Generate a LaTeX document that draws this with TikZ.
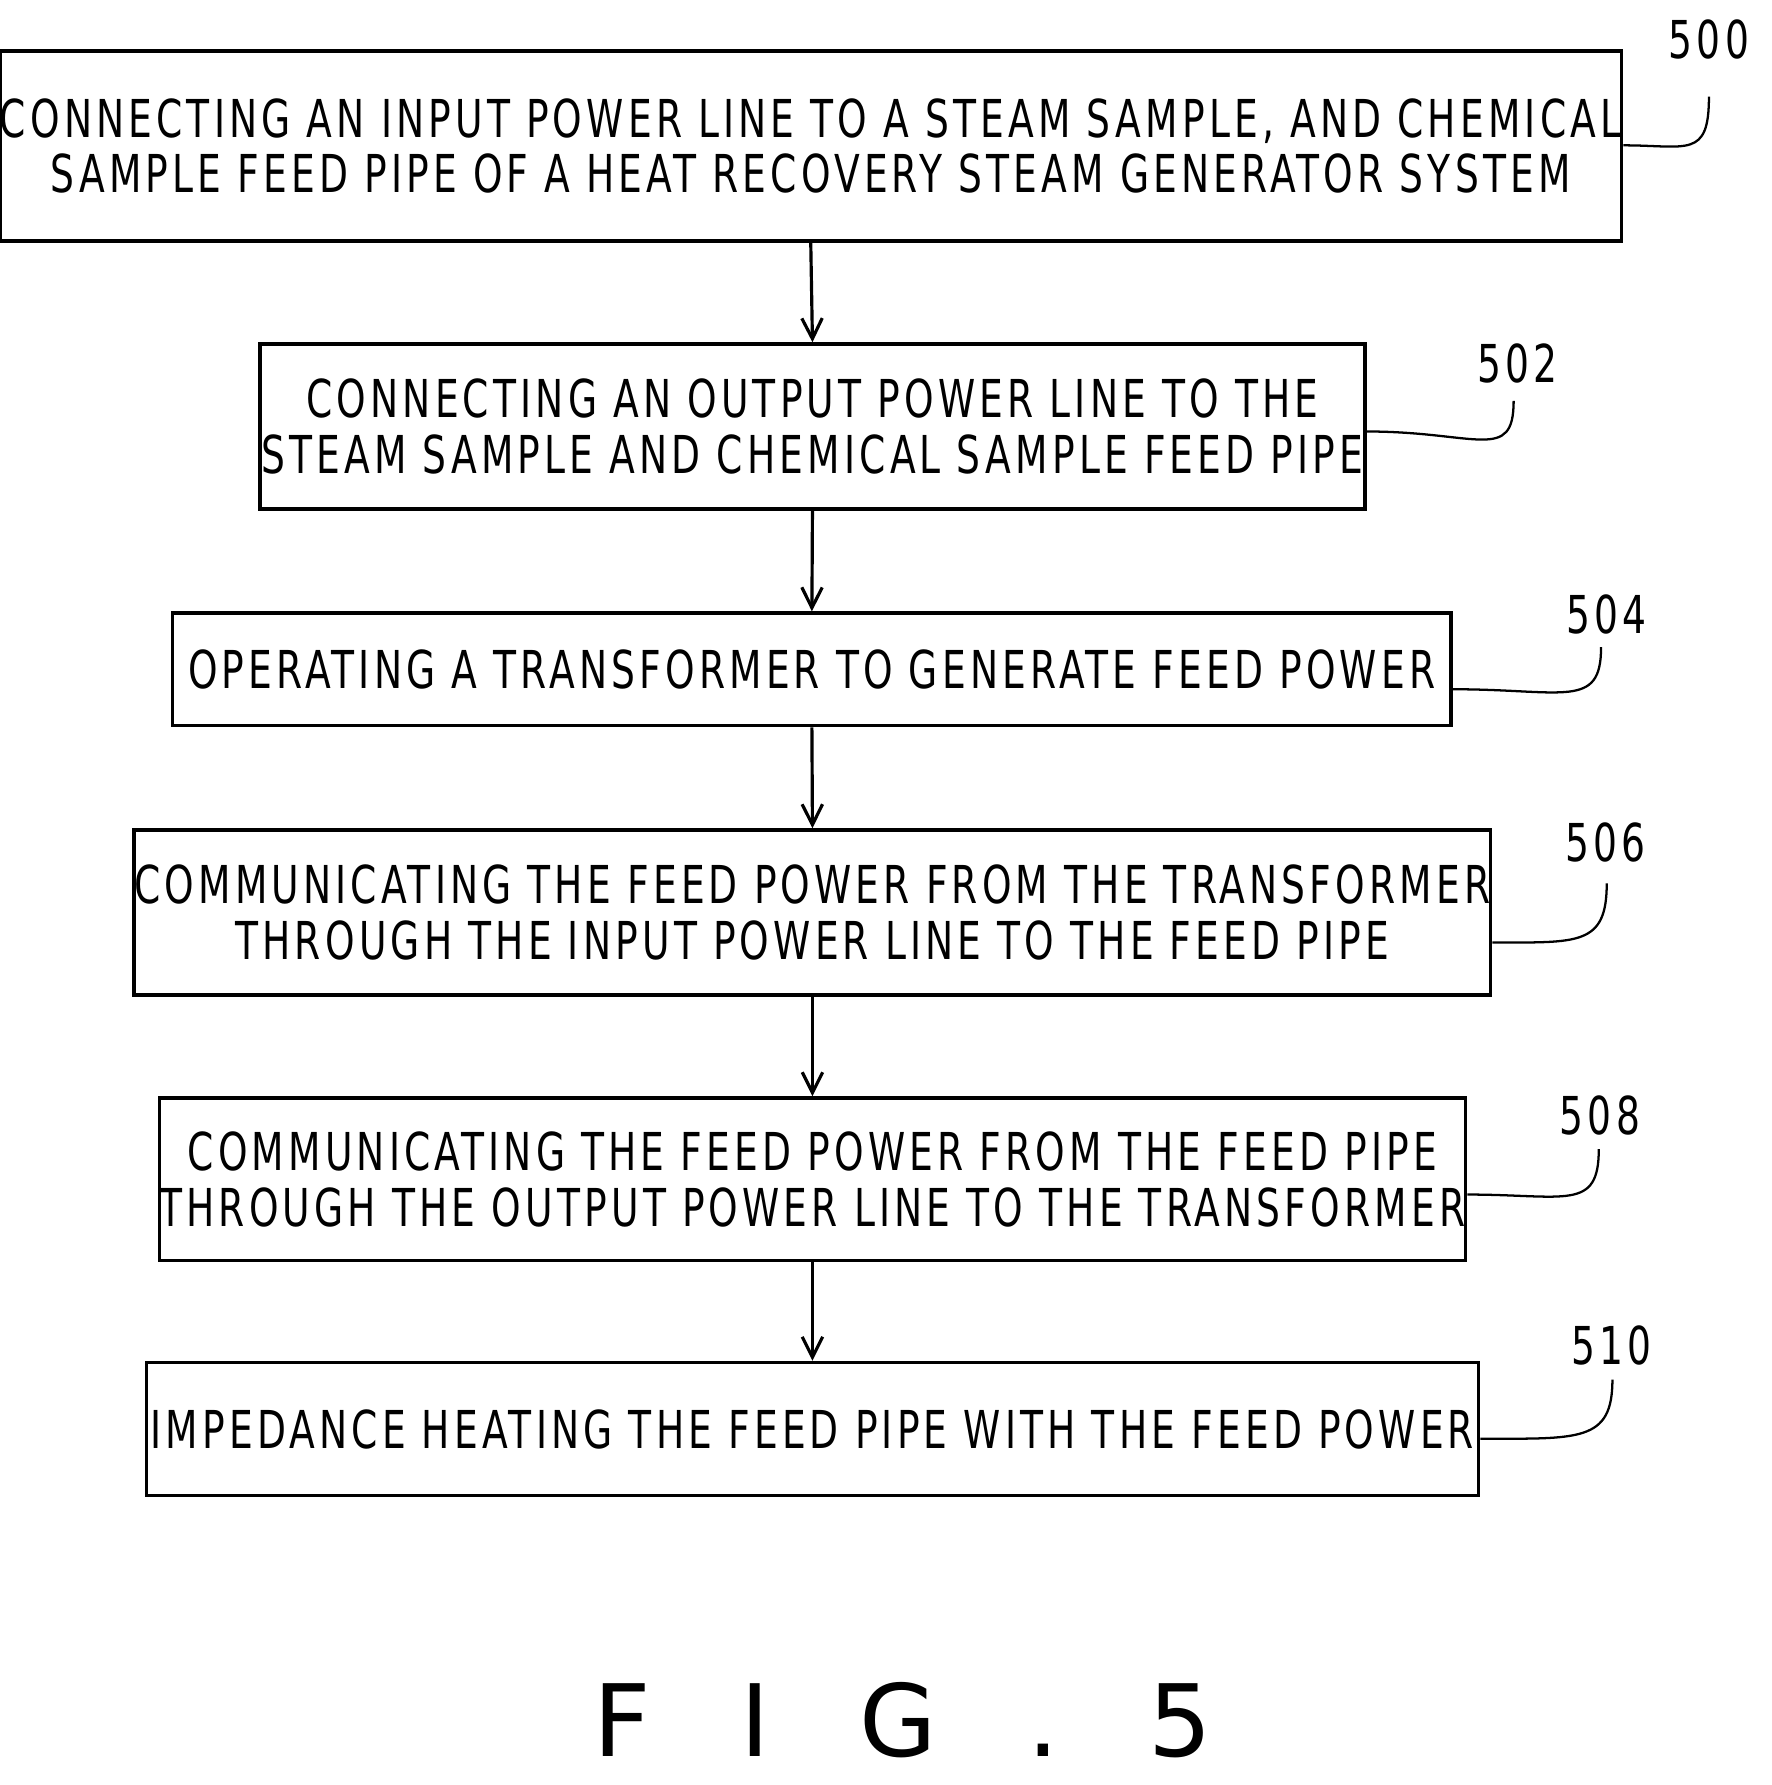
\documentclass[tikz,border=0pt]{standalone}
\usepackage{fontspec}
\usetikzlibrary{arrows.meta,calc}
\setmainfont{DejaVu Sans Condensed}[LetterSpace=8,FakeStretch=0.8]
\newfontfamily\figfont{DejaVu Sans}[LetterSpace=90]
\begin{document}
\begin{tikzpicture}[x=0.5pt,y=-0.5pt,
 box/.style={draw,line width=1.6pt,align=center,inner sep=0pt,font=\fontsize{23}{24.5}\selectfont},
 lab/.style={font=\fontsize{23}{24}\selectfont},
 lead/.style={line width=1pt},
 arr/.style={line width=1.4pt,-{Straight Barb[length=9pt,width=9pt]}}]
\useasboundingbox (0,0) rectangle (1560,1572);
\node[box,minimum width=696pt,minimum height=83.5pt] (b0) at (714,128.5) {CONNECTING AN INPUT POWER LINE TO A STEAM SAMPLE, AND CHEMICAL\\SAMPLE FEED PIPE OF A HEAT RECOVERY STEAM GENERATOR SYSTEM};
\node[box,minimum width=486.5pt,minimum height=72.5pt] (b1) at (715.5,375.5) {CONNECTING AN OUTPUT POWER LINE TO THE\\STEAM SAMPLE AND CHEMICAL SAMPLE FEED PIPE};
\node[box,minimum width=563pt,minimum height=49.5pt] (b2) at (715,589.5) {OPERATING A TRANSFORMER TO GENERATE FEED POWER};
\node[box,minimum width=565.5pt,minimum height=72.5pt] (b3) at (715.5,803.5) {COMMUNICATING THE FEED POWER FROM THE TRANSFORMER\\THROUGH THE INPUT POWER LINE TO THE FEED PIPE};
\node[box,minimum width=541.5pt,minimum height=71.5pt] (b4) at (715.5,1038.5) {COMMUNICATING THE FEED POWER FROM THE FEED PIPE\\THROUGH THE OUTPUT POWER LINE TO THE TRANSFORMER};
\node[box,minimum width=586.5pt,minimum height=58.5pt] (b5) at (715.5,1258.5) {IMPEDANCE HEATING THE FEED PIPE WITH THE FEED POWER};
\foreach \a/\b in {b0/b1,b1/b2,b2/b3,b3/b4,b4/b5}
  \draw[arr] (\a.south) -- (\b.north);
\node[lab] (l0) at (1505,35) {500};
\node[lab] (l1) at (1336,320) {502};
\node[lab] (l2) at (1415,541) {504};
\node[lab] (l3) at (1414,742) {506};
\node[lab] (l4) at (1409,982) {508};
\node[lab] (l5) at (1419,1185) {510};
\coordinate (e0) at (b0.east|-0,128); \coordinate (t0) at (1505,85);
\coordinate (e1) at (b1.east|-0,380); \coordinate (t1) at (1333,353);
\coordinate (e2) at (b2.east|-0,607); \coordinate (t2) at (1410,570);
\coordinate (e3) at (b3.east|-0,830); \coordinate (t3) at (1415,778);
\coordinate (e4) at (b4.east|-0,1052); \coordinate (t4) at (1408,1012);
\coordinate (e5) at (b5.east|-0,1267); \coordinate (t5) at (1420,1215);
\foreach \i in {0,...,5}
  \draw[lead] (e\i) .. controls ($(e\i)!0.75!(t\i|-e\i)$) and ($(t\i)+(0,55)$) .. (t\i);
\node[font=\figfont\fontsize{44}{44}\selectfont] (fig) at (795,1515) {FIG.5};
\end{tikzpicture}
\end{document}
